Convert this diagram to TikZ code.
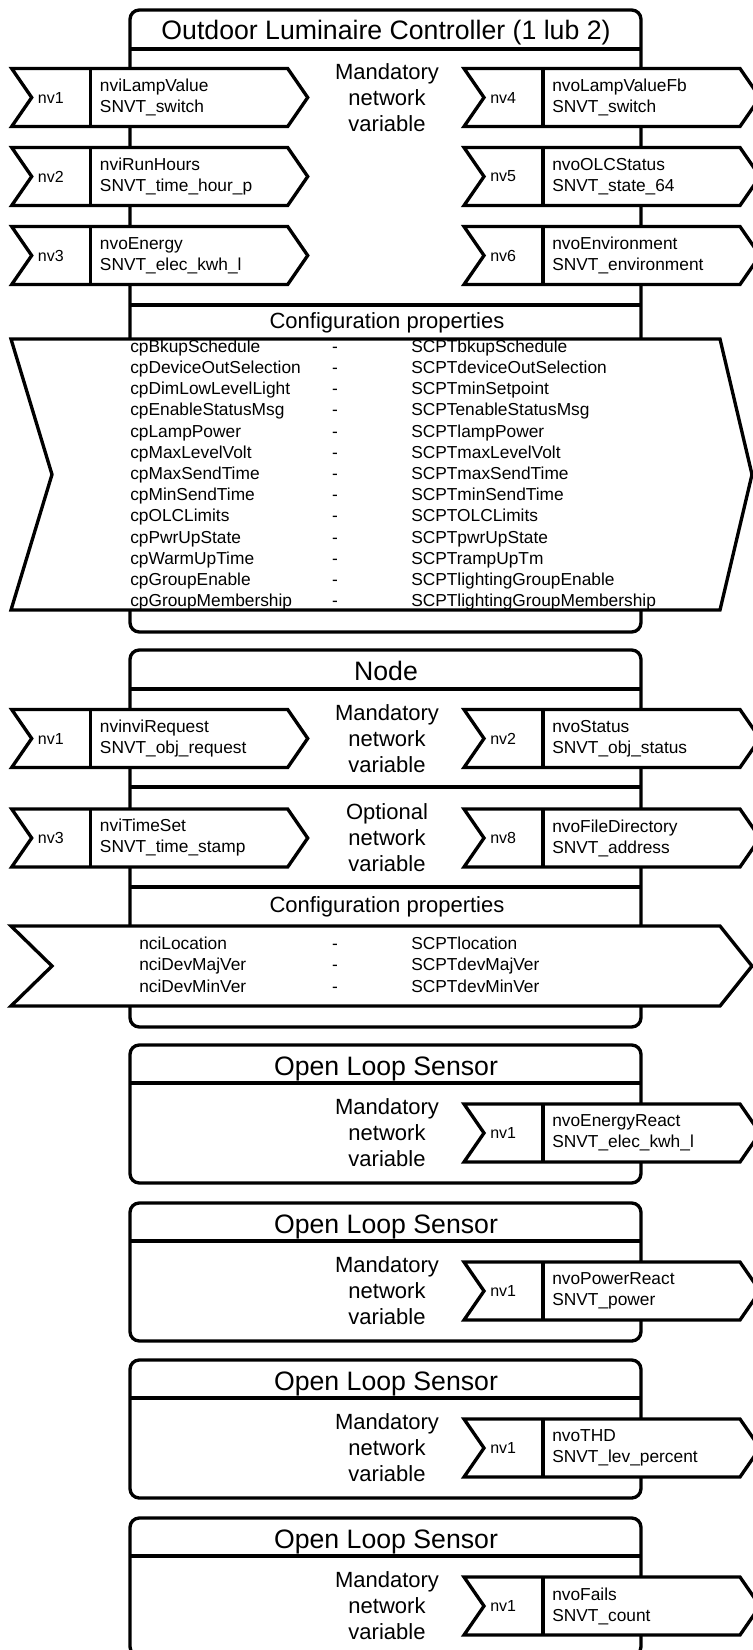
\documentclass[tikz,border=0pt]{standalone}
\usepackage{fontspec}
\setmainfont{Liberation Sans}
\usepackage{tikz}

\newcommand{\nvarrow}[6]{%
        \draw[nvshape] (#2,#3-29) -- ++(276,0) -- ++(20,29) -- ++(-20,29) -- ++(-276,0) -- ++(20,-29) -- cycle;
        \draw[frame] (#2+79,#3-29) -- ++(0,58);
        \node[nvid] (#1-id) at (#2+26,#3) {#4};
        \node[nvtext] (#1-var) at (#2+88,#3) {#5\\#6};}
\newcommand{\cparrow}[2]{%
        \draw[nvshape] (11,#1) -- (720,#1) -- (752,{(#1+#2)/2}) -- (720,#2) -- (11,#2) -- (52,{(#1+#2)/2}) -- cycle;}

\begin{document}
\begin{tikzpicture}[x=0.75pt,y=-0.75pt,
        frame/.style={line width=2.5pt},
        nvshape/.style={line width=2.5pt,fill=white,line join=miter},
        title/.style={anchor=base,font=\fontsize{20}{23}\selectfont,inner sep=0},
        section/.style={font=\fontsize{16.5}{19.5}\selectfont,align=center,inner sep=0},
        nvid/.style={anchor=west,font=\fontsize{12}{14}\selectfont,inner sep=0},
        nvtext/.style={anchor=west,align=left,font=\fontsize{13}{15.75}\selectfont,inner sep=0},
        cptext/.style={anchor=west,font=\fontsize{13}{15}\selectfont,inner sep=0,text height=9pt,text depth=2.7pt}]
        \useasboundingbox (0,0) rectangle (753,1650);
        \clip (0,0) rectangle (753,1650);

        \draw[frame,rounded corners=7pt,fill=white] (130,10) rectangle (641,632);
        \draw[frame] (130,49) -- (641,49);
        \draw[frame] (130,305) -- (641,305);
        \node[title] (olc-title) at (386,39) {Outdoor Luminaire Controller (1 lub 2)};
        \node[section] (olc-mand) at (387,98) {Mandatory\\network\\variable};
        \nvarrow{olc-in1}{11.7}{97.5}{nv1}{nviLampValue}{SNVT\_switch}
        \nvarrow{olc-in2}{11.7}{176.5}{nv2}{nviRunHours}{SNVT\_time\_hour\_p}
        \nvarrow{olc-in3}{11.7}{255.5}{nv3}{nvoEnergy}{SNVT\_elec\_kwh\_l}
        \nvarrow{olc-out1}{464}{97.5}{nv4}{nvoLampValueFb}{SNVT\_switch}
        \nvarrow{olc-out2}{464}{176.5}{nv5}{nvoOLCStatus}{SNVT\_state\_64}
        \nvarrow{olc-out3}{464}{255.5}{nv6}{nvoEnvironment}{SNVT\_environment}
        \node[section] (olc-conf) at (387,323) {Configuration properties};
        \cparrow{339}{610}
        \foreach \cp/\scpt [count=\i from 0] in {cpBkupSchedule/SCPTbkupSchedule,
                cpDeviceOutSelection/SCPTdeviceOutSelection, cpDimLowLevelLight/SCPTminSetpoint,
                cpEnableStatusMsg/SCPTenableStatusMsg, cpLampPower/SCPTlampPower,
                cpMaxLevelVolt/SCPTmaxLevelVolt, cpMaxSendTime/SCPTmaxSendTime,
                cpMinSendTime/SCPTminSendTime, cpOLCLimits/SCPTOLCLimits,
                cpPwrUpState/SCPTpwrUpState, cpWarmUpTime/SCPTrampUpTm,
                cpGroupEnable/SCPTlightingGroupEnable, cpGroupMembership/SCPTlightingGroupMembership}{
                \node[cptext] (olc-cp\i) at (130,348+21.2*\i) {\cp};
                \node[cptext,anchor=center] (olc-dash\i) at (335,348+21.2*\i) {-};
                \node[cptext] (olc-scpt\i) at (411,348+21.2*\i) {\scpt};
        }

        \draw[frame,rounded corners=7pt,fill=white] (130,650) rectangle (641,1027);
        \draw[frame] (130,689) -- (641,689);
        \draw[frame] (130,787) -- (641,787);
        \draw[frame] (130,887) -- (641,887);
        \node[title] (node-title) at (386,680) {Node};
        \node[section] (node-mand) at (387,739) {Mandatory\\network\\variable};
        \node[section] (node-opt) at (387,838) {Optional\\network\\variable};
        \nvarrow{node-in1}{11.7}{738.5}{nv1}{nvinviRequest}{SNVT\_obj\_request}
        \nvarrow{node-out1}{464}{738.5}{nv2}{nvoStatus}{SNVT\_obj\_status}
        \nvarrow{node-in2}{11.7}{838}{nv3}{nviTimeSet}{SNVT\_time\_stamp}
        \nvarrow{node-out2}{464}{838}{nv8}{nvoFileDirectory}{SNVT\_address}
        \node[section] (node-conf) at (387,907) {Configuration properties};
        \cparrow{926}{1006}
        \foreach \cp/\scpt [count=\i from 0] in {nciLocation/SCPTlocation,
                nciDevMajVer/SCPTdevMajVer, nciDevMinVer/SCPTdevMinVer}{
                \node[cptext] (node-cp\i) at (139,945+21.5*\i) {\cp};
                \node[cptext,anchor=center] (node-dash\i) at (335,945+21.5*\i) {-};
                \node[cptext] (node-scpt\i) at (411,945+21.5*\i) {\scpt};
        }

        \foreach \t/\var/\typ [count=\i] in {1045/nvoEnergyReact/SNVT\_elec\_kwh\_l,
                1203/nvoPowerReact/SNVT\_power, 1360/nvoTHD/SNVT\_lev\_percent,
                1518/nvoFails/SNVT\_count}{
                \draw[frame,rounded corners=7pt,fill=white] (130,\t) rectangle (641,\t+138);
                \draw[frame] (130,\t+38) -- (641,\t+38);
                \node[title] (ols\i-title) at (386,\t+30) {Open Loop Sensor};
                \node[section] (ols\i-mand) at (387,\t+88) {Mandatory\\network\\variable};
                \nvarrow{ols\i-out}{464}{\t+88}{nv1}{\var}{\typ}
        }
\end{tikzpicture}
\end{document}
